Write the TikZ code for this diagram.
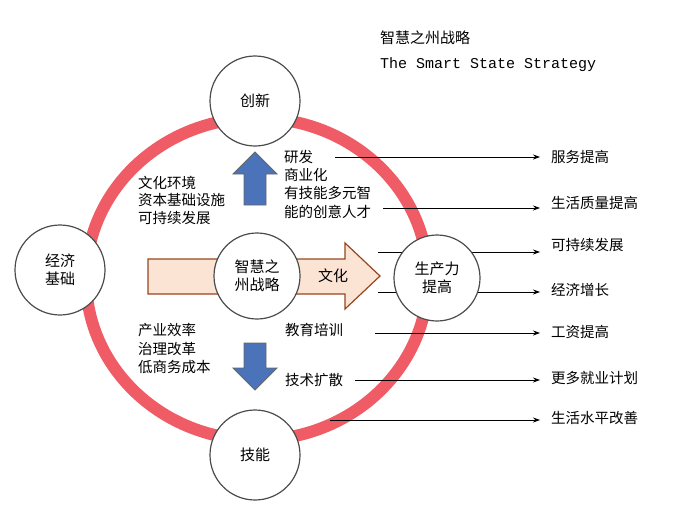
\documentclass[tikz,border=0pt]{standalone}
\usepackage{fontspec}
\setmainfont{Noto Sans CJK SC}
\newfontfamily\monof{Liberation Mono}
\usetikzlibrary{arrows.meta}
\begin{document}
\begin{tikzpicture}[x=1pt,y=-1pt,
  circ/.style={circle,draw=black!70,line width=1.2pt,fill=white,minimum size=90pt,align=center,font=\fontsize{15}{18}\selectfont},
  txt/.style={anchor=west,font=\fontsize{14.5}{16}\selectfont,inner sep=0pt},
  blue arrow/.style={draw=black!60,line width=0.8pt,fill={rgb,255:red,75;green,115;blue,185}},
  arr/.style={-{Stealth[length=7pt,width=5pt]},line width=0.8pt}]
\useasboundingbox (0,0) rectangle (674,509);
\draw[line width=12pt,color={rgb,255:red,240;green,92;blue,102}] (257,279) ellipse [x radius=171,y radius=161];
\coordinate (a1) at (335,157); \coordinate (a2) at (383,208);
\coordinate (a3) at (378,252); \coordinate (a4) at (378,292);
\coordinate (a5) at (375,333); \coordinate (a6) at (355,380);
\coordinate (a7) at (330,420);
\foreach \i/\y in {1/157,2/208,3/252,4/292,5/333,6/380,7/420}
  \draw[arr] (a\i) -- (540,\y);
\draw[draw={rgb,255:red,150;green,70;blue,30},line width=1.2pt,fill={rgb,255:red,252;green,228;blue,212}]
  (148,259) -- (345,259) -- (345,243) -- (380,276) -- (345,309) -- (345,294) -- (148,294) -- cycle;
\node[circ,minimum size=86pt] (c) at (257,276) {智慧之\\州战略};
\node[txt,font=\fontsize{15}{18}\selectfont] (wh) at (318,276) {文化};
\node[circ] (top) at (255,101) {创新};
\node[circ] (bot) at (255,455) {技能};
\node[circ] (left) at (60,270) {经济\\基础};
\node[circ,minimum size=86pt] (right) at (437,278) {生产力\\提高};
\draw[blue arrow] (244,205) -- (244,174) -- (233,174) -- (255,152) -- (277,174) -- (266,174) -- (266,205) -- cycle;
\draw[blue arrow] (244,343) -- (244,368) -- (233,368) -- (255,390) -- (277,368) -- (266,368) -- (266,343) -- cycle;
\node[anchor=west,font=\fontsize{15}{18}\selectfont,inner sep=0pt] (t1) at (380,38) {智慧之州战略};
\node[anchor=west,font=\monof\fontsize{15}{18}\selectfont,inner sep=0pt] (t2) at (380,65) {The Smart State Strategy};
\node[txt] (l1) at (138,183) {文化环境};
\node[txt] (l2) at (138,200) {资本基础设施};
\node[txt] (l3) at (138,218) {可持续发展};
\node[txt] (r1) at (284,157) {研发};
\node[txt] (r2) at (284,175) {商业化};
\node[txt] (r3) at (284,193) {有技能多元智};
\node[txt] (r4) at (284,212) {能的创意人才};
\node[txt] (b1) at (138,330) {产业效率};
\node[txt] (b2) at (138,349) {治理改革};
\node[txt] (b3) at (138,367) {低商务成本};
\node[txt] (e1) at (285,330) {教育培训};
\node[txt] (e2) at (285,380) {技术扩散};
\foreach \n/\y/\s in {s1/157/服务提高,s2/203/生活质量提高,s3/245/可持续发展,s4/290/经济增长,s5/332/工资提高,s6/378/更多就业计划,s7/418/生活水平改善}
  \node[txt] (\n) at (551,\y) {\s};
\end{tikzpicture}
\end{document}
